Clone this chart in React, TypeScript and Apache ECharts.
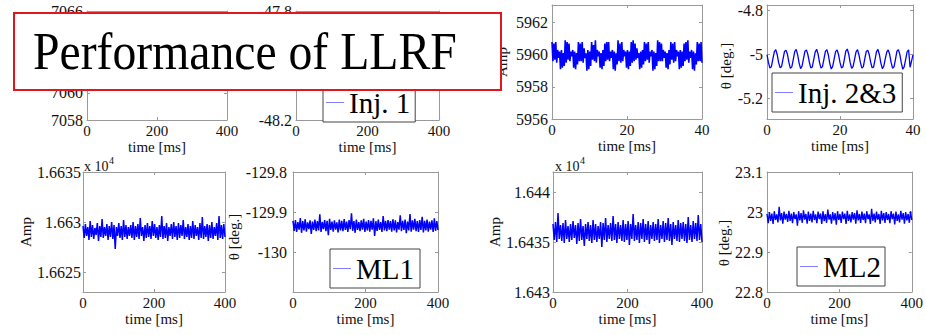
import React, { useEffect, useRef } from "react";
import * as echarts from "echarts";

// ---------------- DATA ----------------
const LONG_SPAN_MS = 400; // injector 1 and main linac record length
const SHORT_SPAN_MS = 40; // injector 2&3 record length

const X_TICKS_LONG = [0, 200, 400];
const X_TICKS_SHORT = [0, 20, 40];

const INJ1_AMP_TICKS = [7058, 7060, 7062, 7064, 7066];
const INJ1_PHASE_TICKS = [-48.2, -48, -47.8];
const INJ23_AMP_TICKS = [5956, 5958, 5960, 5962];
const INJ23_PHASE_TICKS = [-5.2, -5, -4.8];
const ML1_AMP_TICKS = [16625, 16630, 16635];
const ML1_PHASE_TICKS = [-130, -129.9, -129.8];
const ML2_AMP_TICKS = [16430, 16435, 16440];
const ML2_PHASE_TICKS = [22.8, 22.9, 23, 23.1];

const INJ1_AMP = [
  7062.8, 7063.6, 7062.2, 7063.9, 7062.5, 7063.4, 7062.0, 7063.7, 7062.6, 7063.3,
  7062.3, 7064.0, 7062.7, 7063.5, 7062.1, 7063.8, 7062.4, 7063.2, 7062.9, 7063.6,
  7062.2, 7063.9, 7062.5, 7063.4, 7062.0, 7063.7, 7062.6, 7063.1, 7062.3, 7063.8,
  7062.7, 7063.5, 7062.1, 7063.6, 7062.4, 7063.3, 7062.8, 7063.9, 7062.2, 7063.4,
];
const INJ1_PHASE = [
  -47.97, -47.94, -47.99, -47.93, -47.96, -47.95, -48.0, -47.92, -47.97, -47.94,
  -47.98, -47.93, -47.96, -47.95, -47.99, -47.92, -47.97, -47.94, -47.98, -47.93,
  -47.96, -47.95, -48.0, -47.93, -47.97, -47.94, -47.99, -47.92, -47.96, -47.95,
  -47.98, -47.93, -47.97, -47.94, -47.99, -47.92, -47.96, -47.95, -47.98, -47.94,
];
const INJ23_AMP = [
  5960.8, 5959.6, 5960.7, 5959.7, 5960.8, 5959.5, 5960.3, 5959.8, 5960.2, 5959.1, 5960.3, 5959.2, 5960.1, 5959.3,
  5960.9, 5959.5, 5960.8, 5959.7, 5960.7, 5959.6, 5960.2, 5959.9, 5960.3, 5959.2, 5960.2, 5959.1, 5960.1, 5959.4,
  5960.8, 5959.6, 5960.7, 5959.6, 5960.8, 5959.5, 5960.4, 5959.8, 5960.1, 5959.0, 5960.3, 5959.1, 5960.2, 5959.3,
  5960.8, 5959.7, 5960.6, 5959.6, 5960.9, 5959.5, 5960.3, 5959.9, 5960.2, 5959.2, 5960.1, 5959.1, 5960.3, 5959.3,
  5960.7, 5959.6, 5960.8, 5959.7, 5960.8, 5959.6, 5960.2, 5959.8, 5960.3, 5959.1, 5960.2, 5959.0, 5960.1, 5959.4,
  5960.9, 5959.6, 5960.7, 5959.5, 5960.8, 5959.6, 5960.3, 5959.9, 5960.2, 5959.2, 5960.3, 5959.1, 5960.2, 5959.3,
  5960.8, 5959.5, 5960.9, 5959.6, 5960.7, 5959.7, 5960.4, 5959.8, 5960.1, 5959.1, 5960.2, 5959.2, 5960.3, 5959.4,
  5960.8, 5959.6, 5960.7, 5959.7, 5960.8, 5959.5, 5960.2, 5959.9, 5960.3, 5959.0, 5960.2, 5959.1, 5960.1, 5959.3,
  5960.9, 5959.6, 5960.8, 5959.6, 5960.7, 5959.6, 5960.3, 5959.8, 5960.2, 5959.2, 5960.1, 5959.1, 5960.3, 5959.4,
  5960.8, 5959.7, 5960.7, 5959.5, 5960.8, 5959.6, 5960.3, 5959.9, 5960.2, 5959.1, 5960.3, 5959.2, 5960.2, 5959.3,
  5960.7, 5959.6, 5960.8, 5959.7, 5960.9, 5959.5, 5960.2, 5959.8, 5960.3, 5959.1, 5960.2, 5959.0, 5960.1, 5959.4,
  5960.8, 5959.6, 5960.7, 5959.6, 5960.8, 5959.5,
];
const INJ23_PHASE = [
  -5.0, -5.037, -5.062, -5.055, -5.021, -4.988, -4.978,
  -5.001, -5.038, -5.06, -5.054, -5.02, -4.986, -4.98,
  -4.999, -5.036, -5.063, -5.056, -5.022, -4.987, -4.977,
  -5.002, -5.039, -5.064, -5.053, -5.019, -4.985, -4.979,
  -5.0, -5.035, -5.061, -5.057, -5.023, -4.989, -4.976,
  -4.998, -5.037, -5.062, -5.055, -5.021, -4.986, -4.978,
  -5.001, -5.04, -5.066, -5.054, -5.02, -4.987, -4.979,
  -5.0, -5.036, -5.061, -5.056, -5.022, -4.985, -4.975,
  -4.999, -5.038, -5.063, -5.054, -5.021, -4.988, -4.978,
  -5.002, -5.037, -5.062, -5.055, -5.019, -4.986, -4.98,
  -5.0, -5.035, -5.06, -5.057, -5.023, -4.987, -4.977,
  -5.001, -5.039, -5.064, -5.053, -5.02, -4.989, -4.979,
  -4.999, -5.036, -5.062, -5.056, -5.022, -4.985, -4.978,
  -5.0, -5.038, -5.067, -5.055, -5.021, -4.987, -4.979,
  -5.058, -5.03, -5.002,
];
const ML1_AMP = [
  16629.6, 16628.4, 16629.8, 16628.6, 16629.5, 16628.2, 16630.1, 16628.5, 16629.7, 16628.3, 16629.4, 16628.7, 16629.9, 16628.1, 16629.6, 16628.5, 16630.3, 16628.4, 16629.5, 16628.6,
  16629.8, 16628.2, 16629.6, 16628.5, 16630.0, 16628.3, 16629.7, 16627.3, 16629.5, 16628.6, 16629.9, 16628.4, 16629.6, 16628.2, 16630.2, 16628.5, 16629.7, 16628.3, 16629.5, 16628.6,
  16629.7, 16628.4, 16630.0, 16628.2, 16629.6, 16628.5, 16629.8, 16628.3, 16630.4, 16628.6, 16629.5, 16628.1, 16629.7, 16628.4, 16629.9, 16628.5, 16629.6, 16628.3, 16630.1, 16628.6,
  16629.8, 16628.4, 16629.5, 16628.2, 16629.7, 16628.5, 16630.6, 16628.3, 16629.6, 16628.4, 16629.9, 16628.1, 16629.5, 16628.6, 16629.8, 16628.3, 16630.0, 16628.5, 16629.6, 16628.2,
  16629.9, 16628.4, 16629.7, 16628.6, 16630.2, 16628.3, 16629.5, 16628.5, 16629.8, 16628.2, 16629.6, 16628.4, 16630.1, 16628.3, 16629.7, 16628.6, 16629.5, 16628.2, 16629.9, 16628.4,
  16630.5, 16628.3, 16629.6, 16628.5, 16629.8, 16628.1, 16629.7, 16628.4, 16630.0, 16628.3, 16629.5, 16628.6, 16629.9, 16628.2, 16630.6, 16628.4, 16629.7, 16628.3, 16629.8, 16628.5,
];
const ML1_PHASE = [
  -129.922, -129.947, -129.92, -129.95, -129.925, -129.944, -129.915, -129.952, -129.923, -129.946, -129.918, -129.949, -129.926, -129.943, -129.921, -129.955, -129.924, -129.945, -129.919, -129.948,
  -129.923, -129.946, -129.906, -129.95, -129.925, -129.943, -129.92, -129.948, -129.922, -129.958, -129.917, -129.945, -129.924, -129.949, -129.921, -129.944, -129.926, -129.951, -129.919, -129.946,
  -129.922, -129.948, -129.918, -129.945, -129.924, -129.95, -129.92, -129.943, -129.903, -129.947, -129.923, -129.952, -129.919, -129.945, -129.925, -129.948, -129.921, -129.944, -129.917, -129.95,
  -129.924, -129.946, -129.92, -129.949, -129.922, -129.944, -129.916, -129.96, -129.923, -129.947, -129.919, -129.945, -129.925, -129.95, -129.91, -129.946, -129.922, -129.948, -129.92, -129.944,
  -129.923, -129.949, -129.918, -129.946, -129.921, -129.951, -129.925, -129.944, -129.908, -129.948, -129.922, -129.945, -129.919, -129.953, -129.924, -129.946, -129.905, -129.949, -129.921, -129.944,
  -129.917, -129.948, -129.923, -129.95, -129.92, -129.945, -129.912, -129.951, -129.922, -129.946, -129.919, -129.949, -129.924, -129.944, -129.921, -129.95, -129.916, -129.947, -129.923, -129.945,
];
const ML2_AMP = [
  16436.8, 16435.2, 16437.0, 16435.0, 16437.9, 16435.3, 16436.7, 16435.1, 16436.9, 16434.9, 16437.2, 16435.3, 16436.6, 16435.0, 16436.8, 16435.2, 16437.1, 16435.4, 16436.7, 16434.8,
  16436.9, 16435.1, 16437.3, 16435.2, 16436.6, 16434.6, 16436.8, 16435.3, 16437.0, 16435.1, 16436.7, 16434.9, 16437.2, 16435.2, 16436.8, 16435.0, 16436.6, 16435.3, 16437.0, 16434.5,
  16436.9, 16435.2, 16437.4, 16435.0, 16436.7, 16435.3, 16436.9, 16435.1, 16437.6, 16435.2, 16436.8, 16434.9, 16437.0, 16435.3, 16436.7, 16435.1, 16437.2, 16435.0, 16436.8, 16435.2,
  16437.1, 16434.7, 16436.8, 16435.3, 16437.8, 16435.1, 16436.7, 16435.2, 16437.0, 16434.9, 16436.9, 16435.3, 16437.3, 16435.0, 16436.8, 16435.2, 16437.1, 16434.8, 16436.7, 16435.3,
  16437.0, 16435.1, 16436.8, 16435.2, 16437.3, 16434.9, 16436.7, 16435.3, 16437.1, 16435.0, 16436.9, 16435.2, 16437.4, 16435.1, 16436.8, 16434.7, 16437.0, 16435.3, 16436.7, 16435.1,
  16437.2, 16435.0, 16436.9, 16435.3, 16437.0, 16435.1, 16436.8, 16434.9, 16437.5, 16435.2, 16436.7, 16435.0, 16437.1, 16435.3, 16436.9, 16435.1, 16437.7, 16435.2, 16436.8, 16435.0,
];
const ML2_PHASE = [
  22.995, 22.972, 23.0, 22.978, 22.996, 22.97, 23.002, 22.98, 22.994, 22.974, 23.013, 22.979, 22.997, 22.971, 23.001, 22.981, 22.995, 22.975, 23.003, 22.978,
  22.996, 22.972, 23.0, 22.982, 22.994, 22.966, 23.002, 22.979, 22.997, 22.973, 23.004, 22.981, 22.995, 22.971, 23.001, 22.978, 22.996, 22.974, 23.003, 22.98,
  22.994, 22.972, 23.001, 22.982, 22.996, 22.97, 23.002, 22.977, 22.995, 22.973, 23.006, 22.981, 22.994, 22.971, 23.0, 22.979, 22.997, 22.968, 23.002, 22.98,
  22.995, 22.973, 23.001, 22.982, 22.996, 22.97, 23.003, 22.978, 22.994, 22.974, 23.0, 22.981, 22.997, 22.971, 23.004, 22.979, 22.995, 22.973, 23.001, 22.98,
  22.996, 22.972, 23.002, 22.982, 22.994, 22.97, 23.008, 22.978, 22.996, 22.974, 23.001, 22.981, 22.995, 22.97, 23.003, 22.979, 22.997, 22.973, 23.0, 22.98,
  22.995, 22.972, 23.002, 22.982, 22.996, 22.969, 23.001, 22.978, 22.994, 22.974, 23.003, 22.981, 22.997, 22.971, 23.0, 22.979, 22.995, 22.973, 23.002, 22.98,
];

const TITLE = "Performance of LLRF";

// ---------------- STYLE / LAYOUT ----------------
const SERIF = "Liberation Serif";
const BOX = "#9a9a9a";
const TXT = "#111";
const LINE = "#0000ff";

type Panel = {
  name: string;
  values: number[];
  span: number;
  xTicks: number[];
  yTicks: number[];
  yMin: number;
  yMax: number;
  scale?: number;
  left: number;
  top: number;
  width: number;
  height: number;
  yName?: string;
  nameGap?: number;
  namePadRight?: number;
  labelMargin?: number;
  lineWidth?: number;
};

const PANELS: Panel[] = [
  { name: "Inj. 1 amp", values: INJ1_AMP, span: LONG_SPAN_MS, xTicks: X_TICKS_LONG, yTicks: INJ1_AMP_TICKS, yMin: 7058, yMax: 7066,
    left: 87, top: 11, width: 140, height: 109, labelMargin: 4 },
  { name: "Inj. 1", values: INJ1_PHASE, span: LONG_SPAN_MS, xTicks: X_TICKS_LONG, yTicks: INJ1_PHASE_TICKS, yMin: -48.2, yMax: -47.8,
    left: 296, top: 11, width: 143, height: 109, labelMargin: 4 },
  { name: "Inj. 2&3 amp", values: INJ23_AMP, span: SHORT_SPAN_MS, xTicks: X_TICKS_SHORT, yTicks: INJ23_AMP_TICKS, yMin: 5956, yMax: 5963.1,
    left: 552, top: 5, width: 150, height: 114, yName: "Amp", nameGap: 43, labelMargin: 4, lineWidth: 1.6 },
  { name: "Inj. 2&3", values: INJ23_PHASE, span: SHORT_SPAN_MS, xTicks: X_TICKS_SHORT, yTicks: INJ23_PHASE_TICKS, yMin: -5.293, yMax: -4.775,
    left: 767, top: 5, width: 146, height: 114, yName: "θ [deg.]", nameGap: 33, namePadRight: 8, labelMargin: 4, lineWidth: 1.3 },
  { name: "ML1 amp", values: ML1_AMP, span: LONG_SPAN_MS, xTicks: X_TICKS_LONG, yTicks: ML1_AMP_TICKS, yMin: 16623, yMax: 16635, scale: 10000,
    left: 83, top: 172, width: 142, height: 120, yName: "Amp", nameGap: 45, labelMargin: 2, lineWidth: 1.5 },
  { name: "ML1", values: ML1_PHASE, span: LONG_SPAN_MS, xTicks: X_TICKS_LONG, yTicks: ML1_PHASE_TICKS, yMin: -130.1, yMax: -129.8,
    left: 293, top: 172, width: 145, height: 120, yName: "θ [deg.]", nameGap: 45, namePadRight: 10, labelMargin: 6, lineWidth: 1.5 },
  { name: "ML2 amp", values: ML2_AMP, span: LONG_SPAN_MS, xTicks: X_TICKS_LONG, yTicks: ML2_AMP_TICKS, yMin: 16430, yMax: 16442, scale: 10000,
    left: 553, top: 172, width: 149, height: 120, yName: "Amp", nameGap: 48, labelMargin: 3, lineWidth: 1.5 },
  { name: "ML2", values: ML2_PHASE, span: LONG_SPAN_MS, xTicks: X_TICKS_LONG, yTicks: ML2_PHASE_TICKS, yMin: 22.8, yMax: 23.1,
    left: 767, top: 172, width: 146, height: 120, yName: "θ [deg.]", nameGap: 33, namePadRight: 22, labelMargin: 4, lineWidth: 1.4 },
];

const LEGENDS = [
  { name: "Inj. 1", left: 323, top: 83, padRight: 5 },
  { name: "Inj. 2&3", left: 772, top: 73, padRight: 6 },
  { name: "ML1", left: 330, top: 249, padRight: 6 },
  { name: "ML2", left: 797, top: 247, padRight: 4 },
];

const fmt = (v: number, scale?: number) =>
  String(+(scale ? v / scale : v).toFixed(5));

function buildOption() {
  const grid: any[] = [];
  const xAxis: any[] = [];
  const yAxis: any[] = [];
  const series: any[] = [];
  const axisLine = { show: true, onZero: false, lineStyle: { color: BOX, width: 1 } };
  const tick = (vals: number[]) => ({
    show: true, inside: true, length: 3, customValues: vals, lineStyle: { color: BOX },
  });

  PANELS.forEach((p, i) => {
    grid.push({ left: p.left, top: p.top, width: p.width, height: p.height, containLabel: false });
    const xMax = p.span;
    xAxis.push({
      gridIndex: i, type: "value", min: 0, max: xMax, position: "bottom",
      axisLine, axisTick: tick(p.xTicks), splitLine: { show: false },
      axisLabel: { customValues: p.xTicks, color: TXT, fontFamily: SERIF, fontSize: 15, margin: 3, formatter: (v: number) => fmt(v) },
      name: "time [ms]", nameLocation: "middle", nameGap: 19,
      nameTextStyle: { color: TXT, fontFamily: SERIF, fontSize: 15 },
    });
    xAxis.push({
      gridIndex: i, type: "value", min: 0, max: xMax, position: "top",
      axisLine, axisTick: tick(p.xTicks), splitLine: { show: false }, axisLabel: { show: false },
    });
    yAxis.push({
      gridIndex: i, type: "value", min: p.yMin, max: p.yMax, position: "left",
      axisLine, axisTick: tick(p.yTicks), splitLine: { show: false },
      axisLabel: {
        customValues: p.yTicks, color: TXT, fontFamily: SERIF, fontSize: 16, margin: p.labelMargin ?? 4,
        formatter: (v: number) => fmt(v, p.scale),
      },
      name: p.yName, nameLocation: "middle", nameGap: p.nameGap ?? 40, nameRotate: 90,
      nameTextStyle: { color: TXT, fontFamily: SERIF, fontSize: 15, padding: [0, p.namePadRight ?? 0, 0, 0] },
    });
    yAxis.push({
      gridIndex: i, type: "value", min: p.yMin, max: p.yMax, position: "right",
      axisLine, axisTick: tick(p.yTicks), splitLine: { show: false }, axisLabel: { show: false },
    });
    const n = p.values.length;
    series.push({
      type: "line", name: p.name, xAxisIndex: 2 * i, yAxisIndex: 2 * i,
      data: p.values.map((v, k) => [(k * p.span) / (n - 1), v]),
      symbol: "none", showSymbol: false, silent: true,
      lineStyle: { color: LINE, width: p.lineWidth ?? 1 }, itemStyle: { color: LINE },
    });
  });

  const legend = LEGENDS.map((l) => ({
    data: [l.name], left: l.left, top: l.top, orient: "horizontal",
    padding: [5, l.padRight, 5, 3], itemWidth: 18, itemHeight: 1, icon: "rect",
    backgroundColor: "#fff", borderColor: "#444", borderWidth: 1, borderRadius: 0,
    selectedMode: false, z: 5,
    itemStyle: { color: "#8080ff" },
    textStyle: { fontFamily: SERIF, fontSize: 29, color: "#000" },
  }));

  const sci = (x: number) => [
    { type: "text", x, y: 166, z: 50, style: { text: "x 10", fontFamily: SERIF, fontSize: 14, fill: TXT, verticalAlign: "middle" } },
    { type: "text", x: x + 25, y: 160, z: 50, style: { text: "4", fontFamily: SERIF, fontSize: 10, fill: TXT, verticalAlign: "middle" } },
  ];

  const graphic = [
    {
      type: "rect", x: 14, y: 13, z: 100,
      shape: { width: 487, height: 77 },
      style: { fill: "#fff", stroke: "#e3161b", lineWidth: 2 },
    },
    {
      type: "text", x: 33, y: 51, z: 101, scaleX: 0.9,
      style: { text: TITLE, fontFamily: SERIF, fontSize: 53, fill: "#000", verticalAlign: "middle", align: "left" },
    },
    ...sci(84),
    ...sci(555),
  ];

  return {
    animation: false,
    backgroundColor: "#fff",
    grid, xAxis, yAxis, series, legend, graphic,
  };
}

export default function App() {
  const ref = useRef<HTMLDivElement>(null);
  useEffect(() => {
    if (!ref.current) return;
    const chart = echarts.init(ref.current, undefined, { renderer: "svg" });
    chart.setOption(buildOption() as any);
    return () => chart.dispose();
  }, []);
  return (
    <div
      ref={ref}
      style={{ position: "fixed", left: 0, top: 0, width: 926, height: 335, background: "#fff" }}
    />
  );
}
